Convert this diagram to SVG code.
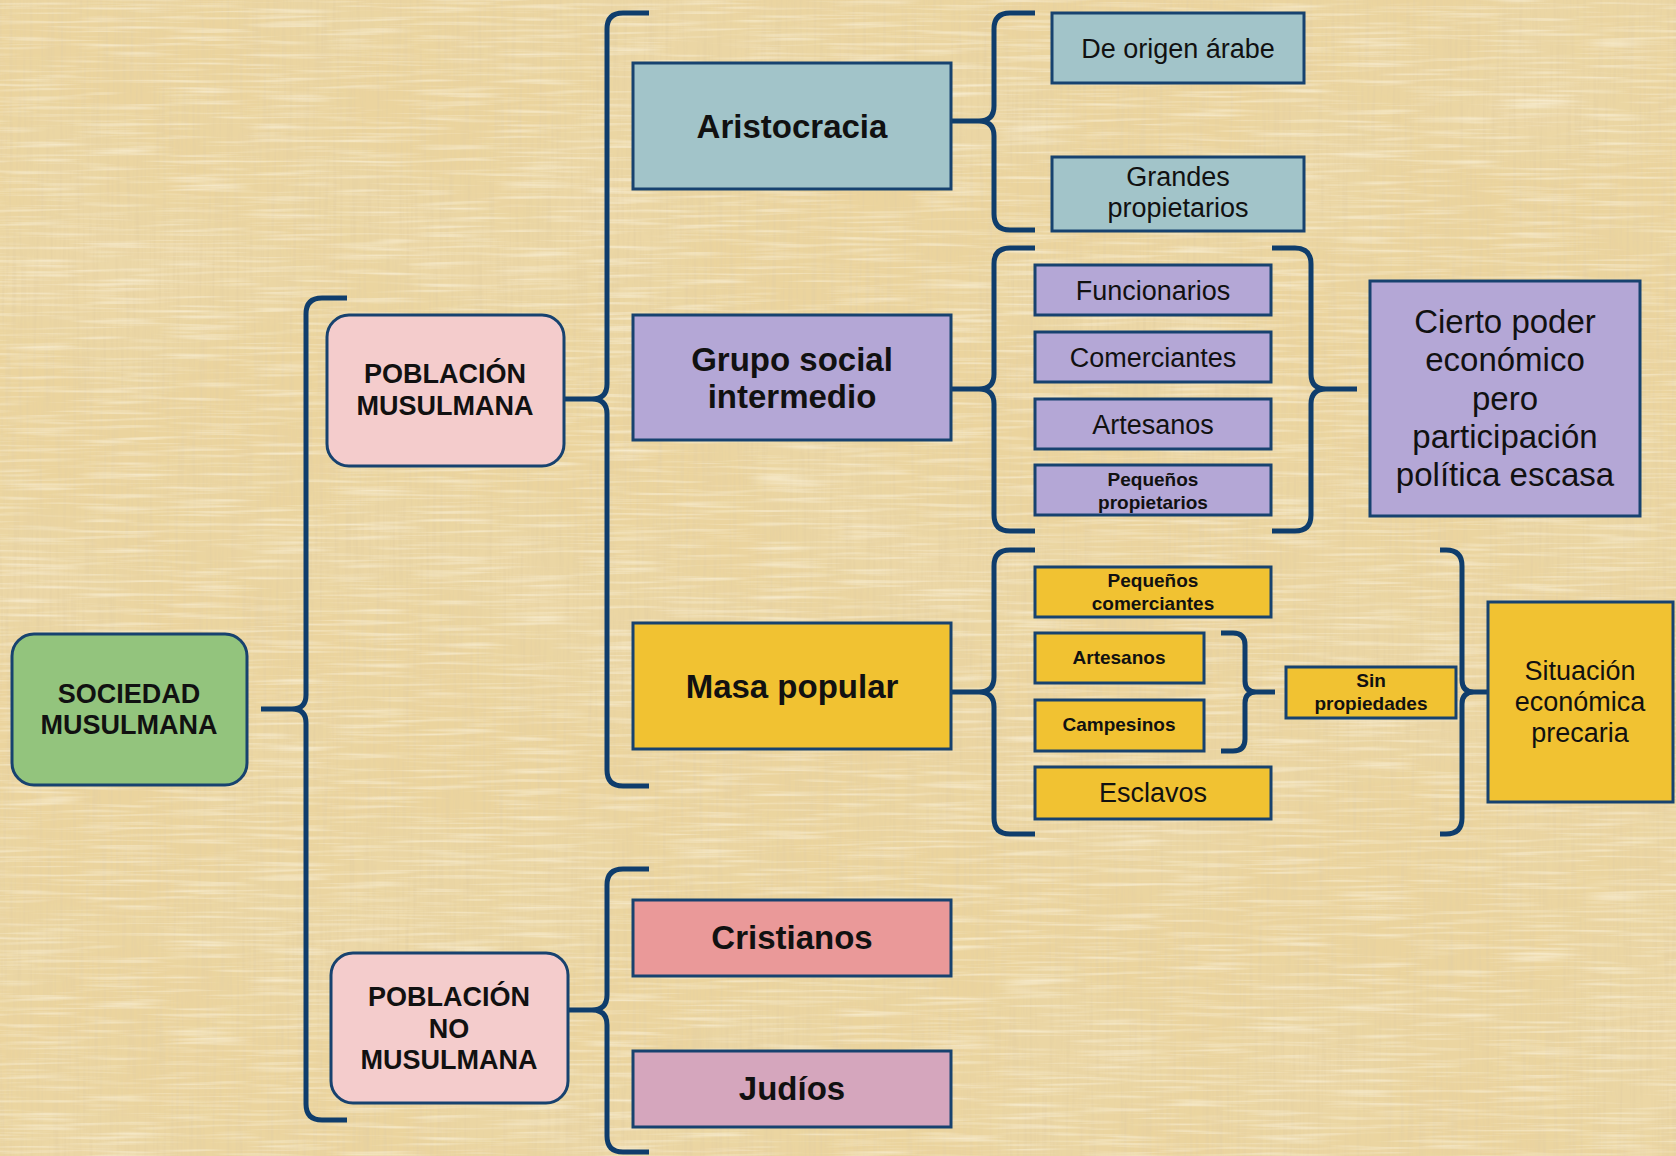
<svg xmlns="http://www.w3.org/2000/svg" width="1676" height="1156" viewBox="0 0 1676 1156">
<defs>
<style>
.bx{stroke:#17426F;stroke-width:3}
.br{fill:none;stroke:#0F3D6C;stroke-width:5;stroke-linecap:butt;stroke-linejoin:round}
.t{font-family:"Liberation Sans",Arial,sans-serif;fill:#111;text-anchor:middle}
.big{font-size:33px;font-weight:bold}
.cap{font-size:27px;font-weight:bold}
.reg{font-size:27px}
.sm{font-size:19px;font-weight:bold}
.xl{font-size:33px}
</style>
<filter id="vstreak" x="0" y="0" width="100%" height="100%">
<feTurbulence type="fractalNoise" baseFrequency="0.3 0.012" numOctaves="2" seed="4"/>
<feColorMatrix type="matrix" values="0 0 0 0 0.78  0 0 0 0 0.63  0 0 0 0 0.36  1.7 0 0 0 -0.72"/>
</filter>
<filter id="hstreak" x="0" y="0" width="100%" height="100%">
<feTurbulence type="fractalNoise" baseFrequency="0.012 0.3" numOctaves="2" seed="9"/>
<feColorMatrix type="matrix" values="0 0 0 0 0.99  0 0 0 0 0.94  0 0 0 0 0.80  1.4 0 0 0 -0.66"/>
</filter>
<filter id="blotch" x="0" y="0" width="100%" height="100%">
<feTurbulence type="fractalNoise" baseFrequency="0.004 0.006" numOctaves="3" seed="2"/>
<feColorMatrix type="matrix" values="0 0 0 0 0.84  0 0 0 0 0.70  0 0 0 0 0.42  1.4 0 0 0 -0.55"/>
</filter>
</defs>
<rect width="1676" height="1156" fill="#EBD49E"/>
<rect width="1676" height="1156" filter="url(#blotch)"/>
<rect width="1676" height="1156" filter="url(#vstreak)"/>
<rect width="1676" height="1156" filter="url(#hstreak)"/>

<g id="connectors">
<path class="br" d="M261 709 H292 Q306 709 306 695 V314 Q306 298 322 298 H347 M292 709 Q306 709 306 723 V1104 Q306 1120 322 1120 H347"/>
<path class="br" d="M564 399 H592 Q607 399 607 384 V29 Q607 13 623 13 H649 M592 399 Q607 399 607 414 V770 Q607 786 623 786 H649"/>
<path class="br" d="M568 1010 H592 Q607 1010 607 995 V885 Q607 869 623 869 H649 M592 1010 Q607 1010 607 1025 V1136 Q607 1152 623 1152 H649"/>
<path class="br" d="M951 121 H979 Q994 121 994 106 V29 Q994 13 1010 13 H1035 M979 121 Q994 121 994 136 V214 Q994 230 1010 230 H1035"/>
<path class="br" d="M951 389 H979 Q994 389 994 374 V264 Q994 248 1010 248 H1035 M979 389 Q994 389 994 404 V515 Q994 531 1010 531 H1035"/>
<path class="br" d="M951 692 H979 Q994 692 994 677 V566 Q994 550 1010 550 H1035 M979 692 Q994 692 994 707 V818 Q994 834 1010 834 H1035"/>
<path class="br" d="M1357 389 H1326 Q1311 389 1311 374 V264 Q1311 248 1295 248 H1272 M1326 389 Q1311 389 1311 404 V515 Q1311 531 1295 531 H1272"/>
<path class="br" d="M1275 692 H1256 Q1245 692 1245 681 V645 Q1245 633 1233 633 H1221 M1256 692 Q1245 692 1245 703 V739 Q1245 751 1233 751 H1221"/>
<path class="br" d="M1488 692 H1474 Q1462 692 1462 680 V566 Q1462 550 1446 550 H1440 M1474 692 Q1462 692 1462 704 V818 Q1462 834 1446 834 H1440"/>
</g>

<g id="n-sociedad">
<rect class="bx" x="12" y="634" width="235" height="151" rx="22" fill="#93C47D"/>
<text class="t cap" x="129" y="703">SOCIEDAD</text>
<text class="t cap" x="129" y="734">MUSULMANA</text>
</g>
<g id="n-musulmana">
<rect class="bx" x="327" y="315" width="237" height="151" rx="22" fill="#F4CCCC"/>
<text class="t cap" x="445" y="383">POBLACIÓN</text>
<text class="t cap" x="445" y="415">MUSULMANA</text>
</g>
<g id="n-nomusulmana">
<rect class="bx" x="331" y="953" width="237" height="150" rx="22" fill="#F4CCCC"/>
<text class="t cap" x="449" y="1006">POBLACIÓN</text>
<text class="t cap" x="449" y="1038">NO</text>
<text class="t cap" x="449" y="1069">MUSULMANA</text>
</g>
<g id="n-aristocracia">
<rect class="bx" x="633" y="63" width="318" height="126" fill="#A2C4C9"/>
<text class="t big" x="792" y="138">Aristocracia</text>
</g>
<g id="n-grupo">
<rect class="bx" x="633" y="315" width="318" height="125" fill="#B4A7D6"/>
<text class="t big" x="792" y="371">Grupo social</text>
<text class="t big" x="792" y="408">intermedio</text>
</g>
<g id="n-masa">
<rect class="bx" x="633" y="623" width="318" height="126" fill="#F1C232"/>
<text class="t big" x="792" y="698">Masa popular</text>
</g>
<g id="n-cristianos">
<rect class="bx" x="633" y="900" width="318" height="76" fill="#EA9999"/>
<text class="t big" x="792" y="949">Cristianos</text>
</g>
<g id="n-judios">
<rect class="bx" x="633" y="1051" width="318" height="76" fill="#D5A6BD"/>
<text class="t big" x="792" y="1100">Judíos</text>
</g>
<g id="n-arabe">
<rect class="bx" x="1052" y="13" width="252" height="70" fill="#A2C4C9"/>
<text class="t reg" x="1178" y="58">De origen árabe</text>
</g>
<g id="n-grandes">
<rect class="bx" x="1052" y="157" width="252" height="74" fill="#A2C4C9"/>
<text class="t reg" x="1178" y="186">Grandes</text>
<text class="t reg" x="1178" y="217">propietarios</text>
</g>
<g id="n-funcionarios">
<rect class="bx" x="1035" y="265" width="236" height="50" fill="#B4A7D6"/>
<text class="t reg" x="1153" y="300">Funcionarios</text>
</g>
<g id="n-comerciantes">
<rect class="bx" x="1035" y="332" width="236" height="50" fill="#B4A7D6"/>
<text class="t reg" x="1153" y="367">Comerciantes</text>
</g>
<g id="n-artesanos1">
<rect class="bx" x="1035" y="399" width="236" height="50" fill="#B4A7D6"/>
<text class="t reg" x="1153" y="434">Artesanos</text>
</g>
<g id="n-pequenos-prop">
<rect class="bx" x="1035" y="465" width="236" height="50" fill="#B4A7D6"/>
<text class="t sm" x="1153" y="486">Pequeños</text>
<text class="t sm" x="1153" y="509">propietarios</text>
</g>
<g id="n-cierto">
<rect class="bx" x="1370" y="281" width="270" height="235" fill="#B4A7D6"/>
<text class="t xl" x="1505" y="333">Cierto poder</text>
<text class="t xl" x="1505" y="371">económico</text>
<text class="t xl" x="1505" y="410">pero</text>
<text class="t xl" x="1505" y="448">participación</text>
<text class="t xl" x="1505" y="486">política escasa</text>
</g>
<g id="n-pequenos-com">
<rect class="bx" x="1035" y="567" width="236" height="50" fill="#F1C232"/>
<text class="t sm" x="1153" y="587">Pequeños</text>
<text class="t sm" x="1153" y="610">comerciantes</text>
</g>
<g id="n-artesanos2">
<rect class="bx" x="1035" y="633" width="169" height="50" fill="#F1C232"/>
<text class="t sm" x="1119" y="664">Artesanos</text>
</g>
<g id="n-campesinos">
<rect class="bx" x="1035" y="700" width="169" height="51" fill="#F1C232"/>
<text class="t sm" x="1119" y="731">Campesinos</text>
</g>
<g id="n-esclavos">
<rect class="bx" x="1035" y="767" width="236" height="52" fill="#F1C232"/>
<text class="t reg" x="1153" y="802">Esclavos</text>
</g>
<g id="n-sin">
<rect class="bx" x="1286" y="667" width="170" height="51" fill="#F1C232"/>
<text class="t sm" x="1371" y="687">Sin</text>
<text class="t sm" x="1371" y="710">propiedades</text>
</g>
<g id="n-situacion">
<rect class="bx" x="1488" y="602" width="185" height="200" fill="#F1C232"/>
<text class="t reg" x="1580" y="680">Situación</text>
<text class="t reg" x="1580" y="711">económica</text>
<text class="t reg" x="1580" y="742">precaria</text>
</g>
</svg>
